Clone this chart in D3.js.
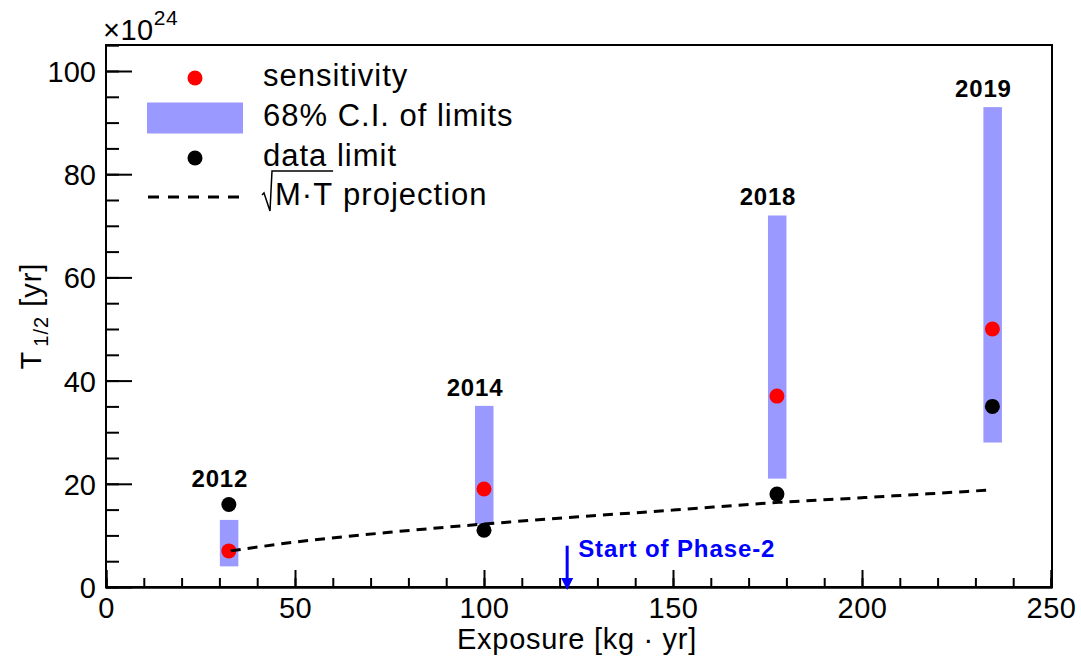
<!DOCTYPE html>
<html>
<head>
<meta charset="utf-8">
<script src="https://cdn.jsdelivr.net/npm/d3@7/dist/d3.min.js"></script>
<style>
  html, body { margin: 0; padding: 0; background: #fff; }
  svg { display: block; font-family: "Liberation Sans", Arial, Helvetica, sans-serif; }
</style>
</head>
<body>
<svg id="chart" width="1081" height="657"></svg>
<script>
// ---- data ----
const years       = ["2012", "2014", "2018", "2019"];
const exposure    = [32.5, 100, 177.5, 234.5];
const sensitivity = [7, 19, 37, 50];
const dataLimit   = [16, 11, 18, 35];
const ciLow       = [4, 12.2, 21, 28];
const ciHigh      = [13, 35.1, 72, 93];
const projExposure = [33, 50, 75, 100, 125, 150, 178, 200, 234];
const projT        = [7, 8.7, 10.6, 12.2, 13.6, 14.9, 16.4, 17.3, 18.8];
const xTickValues = [0, 50, 100, 150, 200, 250];
const yTickValues = [0, 20, 40, 60, 80, 100];
const legendLabels = ["sensitivity", "68% C.I. of limits", "data limit", "projection"];
const phase2Start = 122;
const phase2ArrowTop = 8;

// ---- layout ----
const svg = d3.select("#chart");
const L = 106, R = 1052, T = 45, B = 587;
const x = d3.scaleLinear().domain([0, 250]).range([L, L + 945]);
const y = d3.scaleLinear().domain([0, 100]).range([B, B - 516]);
const BLUE = "#0000ff", BAND = "#9999ff";

// frame
svg.append("rect").attr("x", L).attr("y", T).attr("width", R - L).attr("height", B - T)
  .attr("fill", "none").attr("stroke", "#000").attr("stroke-width", 2);

// x axis ticks (inside, upwards)
const xMinor = d3.range(0, 251, 10);
const xAxisMinor = d3.axisBottom(x).tickValues(xMinor).tickSize(-9).tickFormat("");
const xAxisMajor = d3.axisBottom(x).tickValues(xTickValues).tickSize(-17).tickFormat(d3.format("d"));
const gxm = svg.append("g").attr("transform", `translate(0,${B})`).call(xAxisMinor);
const gx = svg.append("g").attr("transform", `translate(0,${B})`).call(xAxisMajor);
[gxm, gx].forEach(g => {
  g.select(".domain").attr("stroke", "#000").attr("stroke-width", 2);
  g.selectAll(".tick line").attr("stroke", "#000").attr("stroke-width", 2);
});
gx.selectAll(".tick text").attr("font-size", 29).attr("fill", "#000")
  .attr("dy", null).attr("y", 31).attr("letter-spacing", 0.5);

// y axis ticks (inside, rightwards)
const yMinor = d3.range(0, 106, 5);
const yAxisMinor = d3.axisLeft(y).tickValues(yMinor).tickSize(-13).tickFormat("");
const yAxisMajor = d3.axisLeft(y).tickValues(yTickValues).tickSize(-26).tickFormat(d3.format("d"));
const gym = svg.append("g").attr("transform", `translate(${L},0)`).call(yAxisMinor);
const gy = svg.append("g").attr("transform", `translate(${L},0)`).call(yAxisMajor);
[gym, gy].forEach(g => {
  g.select(".domain").remove();
  g.selectAll(".tick line").attr("stroke", "#000").attr("stroke-width", 2);
});
svg.append("line").attr("x1", L).attr("x2", L).attr("y1", T).attr("y2", B)
  .attr("stroke", "#000").attr("stroke-width", 2);
gy.selectAll(".tick text").attr("font-size", 29).attr("fill", "#000")
  .attr("x", -10).attr("dy", "0.36em");

// exponent label
const expo = svg.append("text").attr("x", 103).attr("y", 40).attr("font-size", 29)
  .attr("letter-spacing", 0.5).attr("fill", "#000");
expo.append("tspan").text("×10");
expo.append("tspan").attr("font-size", 21).attr("dy", -15).text("24");

// axis titles
svg.append("text").attr("x", (L + R) / 2 - 2).attr("y", 649).attr("text-anchor", "middle")
  .attr("font-size", 29).attr("letter-spacing", 0.7).attr("fill", "#000").text("Exposure [kg · yr]");
const yt = svg.append("text").attr("transform", "translate(41,316) rotate(-90)")
  .attr("text-anchor", "middle").attr("font-size", 29).attr("letter-spacing", 1).attr("fill", "#000");
yt.append("tspan").text("T");
yt.append("tspan").attr("font-size", 20).attr("dy", 7).attr("dx", 4).text("1/2");
yt.append("tspan").attr("dy", -7).text(" [yr]");

// CI bands
svg.append("g").selectAll("rect").data(years).join("rect")
  .attr("x", (d, i) => x(exposure[i]) - 9)
  .attr("width", 18.5)
  .attr("y", (d, i) => y(ciHigh[i]))
  .attr("height", (d, i) => y(ciLow[i]) - y(ciHigh[i]))
  .attr("fill", BAND);

// markers
svg.append("g").selectAll("circle").data(years).join("circle")
  .attr("cx", (d, i) => x(exposure[i])).attr("cy", (d, i) => y(dataLimit[i]))
  .attr("r", 7.5).attr("fill", "#000");
svg.append("g").selectAll("circle").data(years).join("circle")
  .attr("cx", (d, i) => x(exposure[i])).attr("cy", (d, i) => y(sensitivity[i]))
  .attr("r", 7.5).attr("fill", "#ff0000");

// projection line
const line = d3.line().x(d => x(d[0])).y(d => y(d[1])).curve(d3.curveMonotoneX);
svg.append("path").datum(projExposure.map((e, i) => [e, projT[i]]))
  .attr("d", line).attr("fill", "none").attr("stroke", "#000")
  .attr("stroke-width", 3).attr("stroke-dasharray", "10,7");

// year labels
svg.append("g").selectAll("text").data(years).join("text")
  .attr("x", (d, i) => x(exposure[i]) - 9)
  .attr("y", (d, i) => Math.min(y(ciHigh[i]), y(dataLimit[i]) - 7.5) - 10)
  .attr("text-anchor", "middle").attr("font-size", 24).attr("font-weight", "bold")
  .attr("letter-spacing", 0.8).attr("fill", "#000").text(d => d);

// Phase-2 arrow
const ax = x(phase2Start);
svg.append("line").attr("x1", ax).attr("x2", ax).attr("y1", y(phase2ArrowTop)).attr("y2", y(0) - 6)
  .attr("stroke", BLUE).attr("stroke-width", 3);
svg.append("path").attr("d", `M${ax - 6},${y(0) - 9} L${ax + 6},${y(0) - 9} L${ax},${y(0) + 3} Z`)
  .attr("fill", BLUE);
svg.append("text").attr("x", ax + 11).attr("y", 557).attr("font-size", 24).attr("font-weight", "bold")
  .attr("letter-spacing", 0.9).attr("fill", BLUE).text("Start of Phase-2");

// legend
const lg = svg.append("g");
const lx = 263, mx = 195, rows = [78, 118, 158, 197];
lg.append("circle").attr("cx", mx).attr("cy", rows[0]).attr("r", 7.5).attr("fill", "#ff0000");
lg.append("rect").attr("x", 147).attr("y", rows[1] - 15.5).attr("width", 96).attr("height", 31).attr("fill", BAND);
lg.append("circle").attr("cx", mx).attr("cy", rows[2]).attr("r", 7.5).attr("fill", "#000");
lg.append("line").attr("x1", 148).attr("x2", 240).attr("y1", rows[3]).attr("y2", rows[3])
  .attr("stroke", "#000").attr("stroke-width", 3).attr("stroke-dasharray", "11,9");
legendLabels.slice(0, 3).forEach((t, i) => {
  lg.append("text").attr("x", lx).attr("y", rows[i] + 8).attr("font-size", 31)
    .attr("letter-spacing", 1).attr("fill", "#000").text(t);
});
// sqrt(M·T) label
const mtx = 275;
const mt = lg.append("text").attr("x", mtx).attr("y", rows[3] + 8).attr("font-size", 31)
  .attr("letter-spacing", 1).attr("fill", "#000").text("M·T");
const mtw = mt.node().getComputedTextLength();
lg.append("path")
  .attr("d", `M${lx - 1},${rows[3] - 2} L${lx + 1},${rows[3] - 4} L${lx + 7},${rows[3] + 14} L${lx + 9},${rows[3] - 26} L${mtx + mtw},${rows[3] - 26}`)
  .attr("fill", "none").attr("stroke", "#000").attr("stroke-width", 1.5);
lg.append("text").attr("x", mtx + mtw + 10).attr("y", rows[3] + 8).attr("font-size", 31)
  .attr("letter-spacing", 1).attr("fill", "#000").text(legendLabels[3]);
</script>
</body>
</html>
